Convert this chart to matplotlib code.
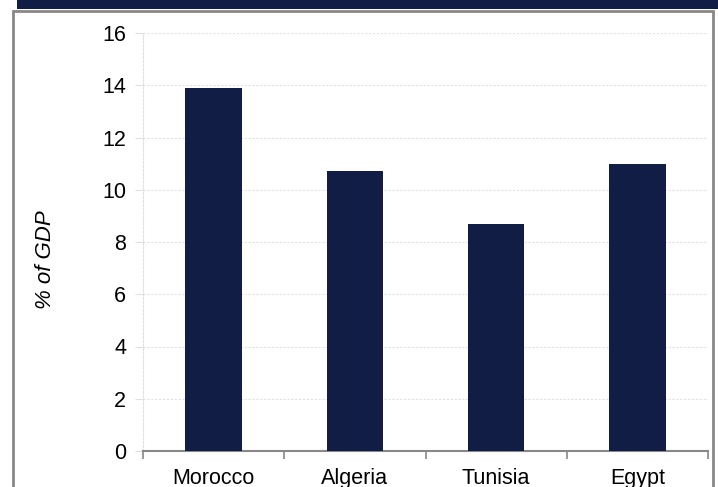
import matplotlib
matplotlib.use("Agg")
import matplotlib.pyplot as plt
from matplotlib.patches import Rectangle
from matplotlib.ticker import FixedLocator

countries = ["Morocco", "Algeria", "Tunisia", "Egypt"]
pct_gdp = [13.9, 10.7, 8.7, 11.0]
y_ticks = [0, 2, 4, 6, 8, 10, 12, 14, 16]

NAVY = "#111d45"
FRAME = "#888888"
GRID = "#e0e0e0"

plt.rcParams["font.family"] = ["Liberation Sans", "DejaVu Sans"]

W, H = 718, 487
fig = plt.figure(figsize=(W / 100, H / 100), dpi=100)

# header band + grey frame (frame runs off the bottom edge)
fig.add_artist(Rectangle((17 / W, 1 - 9 / H), 1, 9 / H, transform=fig.transFigure,
                         facecolor=NAVY, edgecolor="none"))
fig.add_artist(Rectangle((13 / W, -0.05), 700 / W, 1.05 - 11 / H, transform=fig.transFigure,
                         facecolor="none", edgecolor=FRAME, linewidth=2))

ax = fig.add_axes([143 / W, 1 - 451 / H, (708 - 143) / W, (451 - 33) / H])
x = range(len(countries))
ax.bar(x, pct_gdp, width=0.4, color=NAVY, zorder=3)

ax.set_xlim(-0.5, len(countries) - 0.5)
ax.set_ylim(0, 16)
ax.set_yticks(y_ticks)
ax.set_xticks(list(x))
ax.set_xticklabels(countries)
ax.xaxis.set_minor_locator(FixedLocator([i - 0.5 for i in range(len(countries) + 1)]))
ax.tick_params(axis="x", which="major", length=0, labelsize=15.5, pad=12)
ax.tick_params(axis="x", which="minor", length=6, width=1.2, color=FRAME)
ax.tick_params(axis="y", length=6, color=GRID, labelsize=15.5, pad=6)

ax.grid(axis="y", color=GRID, linestyle=(0, (2, 1.5)), linewidth=0.8, zorder=0)
for side in ("top", "right"):
    ax.spines[side].set_visible(False)
ax.spines["left"].set_color(GRID)
ax.spines["left"].set_linestyle((0, (2, 1.5)))
ax.spines["left"].set_linewidth(0.8)
ax.spines["bottom"].set_color(FRAME)
ax.spines["bottom"].set_linewidth(1.5)

ax.set_ylabel("% of GDP", fontsize=16, style="italic")
ax.yaxis.set_label_coords((56 - 143) / 565, (451 - 260) / 418)

fig.savefig("out.png", dpi=100)
